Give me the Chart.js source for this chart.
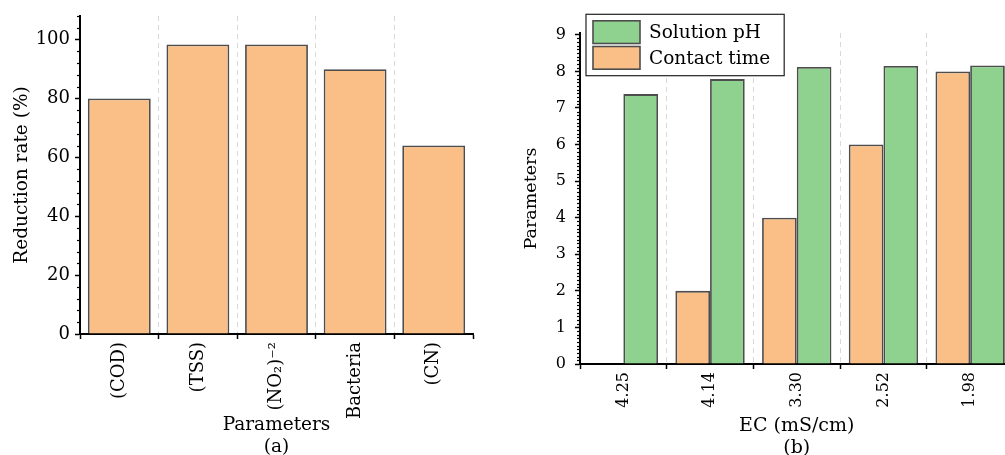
<!DOCTYPE html>
<html>
<head>
<meta charset="utf-8">
<script src="https://cdn.jsdelivr.net/npm/chart.js@4.4.1/dist/chart.umd.min.js"></script>
<style>
  html, body { margin: 0; padding: 0; background: #fff; }
  body { width: 1005px; height: 455px; overflow: hidden; position: relative; }
  #panelA { position: absolute; left: 0; top: 0; width: 500px; height: 455px; }
  #panelB { position: absolute; left: 500px; top: 0; width: 520px; height: 455px; }
</style>
</head>
<body>
<div id="panelA"><canvas id="chartA"></canvas></div>
<div id="panelB"><canvas id="chartB"></canvas></div>
<script>
// Panel (a): reduction rate for each parameter
const paramLabels = ['(COD)', '(TSS)', '(NO₂)⁻²', 'Bacteria', '(CN)'];
const reductionRate = [80, 98.3, 98.3, 89.9, 64];

// Panel (b): contact time and solution pH against EC
const ecLabels = ['4.25', '4.14', '3.30', '2.52', '1.98'];
const contactTime = [null, 2, 4, 6, 8];
const solutionPH = [7.38, 7.79, 8.12, 8.15, 8.16];

const ORANGE = '#f9bf87';
const GREEN = '#8fd28f';
const EDGE = '#4d4d4d';
const SERIF = "'DejaVu Serif', 'Liberation Serif', serif";

Chart.defaults.font.family = SERIF;
Chart.defaults.color = '#000';

// Small tick marks between the labelled y ticks
const minorTicks = {
  id: 'minorTicks',
  afterDraw(chart, args, opts) {
    const s = chart.scales.y;
    const ctx = chart.ctx;
    ctx.save();
    ctx.strokeStyle = '#000';
    ctx.lineWidth = 1.2;
    const n = Math.floor((s.max - s.min) / opts.step + 1e-9);
    for (let i = 0; i <= n; i++) {
      const v = s.min + i * opts.step;
      const r = v / opts.major;
      if (Math.abs(r - Math.round(r)) < 1e-6) continue;
      const y = Math.round(s.getPixelForValue(v)) + 0.5;
      ctx.beginPath();
      ctx.moveTo(s.right - opts.len, y);
      ctx.lineTo(s.right, y);
      ctx.stroke();
    }
    ctx.restore();
  }
};

// Framed legend placed in the upper-left corner of the plot
const boxedLegend = {
  id: 'boxedLegend',
  afterDraw(chart, args, opts) {
    const { ctx, chartArea } = chart;
    const items = opts.order.map(i => chart.data.datasets[i]);
    ctx.save();
    ctx.font = opts.font;
    const textW = Math.max(...items.map(d => ctx.measureText(d.label).width));
    const x0 = chartArea.left + opts.dx;
    const y0 = opts.top;
    const sw = 47, sh = 22.7, gap = 3, padX = 7, padY = 6.5;
    const w = padX + sw + 9 + textW + 14;
    const h = padY * 2 + items.length * sh + (items.length - 1) * gap;
    ctx.fillStyle = '#fff';
    ctx.fillRect(x0, y0, w, h);
    ctx.strokeStyle = '#222';
    ctx.lineWidth = 1.2;
    ctx.strokeRect(x0, y0, w, h);
    items.forEach((d, k) => {
      const y = y0 + padY + k * (sh + gap);
      ctx.fillStyle = d.backgroundColor;
      ctx.fillRect(x0 + padX, y, sw, sh);
      ctx.strokeStyle = d.borderColor;
      ctx.lineWidth = 1.6;
      ctx.strokeRect(x0 + padX, y, sw, sh);
      ctx.fillStyle = '#000';
      ctx.textBaseline = 'middle';
      ctx.fillText(d.label, x0 + padX + sw + 9, y + sh / 2 + 1);
    });
    ctx.restore();
  }
};

function xAxis(labels, title, height, tickSize, titleSize, titleBottom) {
  return {
    type: 'category',
    labels: labels,
    offset: true,
    grid: {
      offset: true,
      // dashed separators between categories only (not at the plot edges)
      color: c => (c.type !== 'tick' || c.index === 0 ? 'rgba(0,0,0,0)' : '#d9d9d9'),
      lineWidth: 1,
      tickLength: 5,
      tickColor: '#000',
      tickWidth: 1.5
    },
    border: { color: '#000', width: 2, dash: [5, 4] },
    ticks: { maxRotation: 90, minRotation: 90, padding: 3, font: { size: tickSize }, color: '#000' },
    title: {
      display: true,
      text: title,
      font: { size: titleSize, lineHeight: 22 / titleSize },
      color: '#000',
      padding: { top: 0, bottom: titleBottom }
    },
    afterFit: s => { s.height = height; }
  };
}

function yAxis(max, step, title, tickSize, titleSize, width, labelPad, titlePad) {
  return {
    min: 0,
    max: max,
    grid: {
      drawOnChartArea: false,
      tickLength: 5,
      tickColor: '#000',
      tickWidth: 1.5
    },
    border: { color: '#000', width: 2 },
    ticks: { stepSize: step, includeBounds: false, padding: labelPad, font: { size: tickSize }, color: '#000' },
    title: {
      display: true,
      text: title,
      font: { size: titleSize },
      color: '#000',
      padding: { top: titlePad, bottom: 0 }
    },
    afterFit: s => { s.width = width; }
  };
}

new Chart(document.getElementById('chartA'), {
  type: 'bar',
  data: {
    labels: paramLabels,
    datasets: [{
      label: 'Reduction rate',
      data: reductionRate,
      backgroundColor: ORANGE,
      borderColor: EDGE,
      borderWidth: 1.8,
      categoryPercentage: 0.8,
      barPercentage: 1.0
    }]
  },
  options: {
    responsive: true,
    maintainAspectRatio: false,
    animation: false,
    layout: { padding: { left: 0, right: 27, top: 16, bottom: 0 } },
    plugins: {
      legend: { display: false },
      tooltip: { enabled: false },
      minorTicks: { step: 4, major: 20, len: 3 }
    },
    scales: {
      x: xAxis(paramLabels, ['Parameters', '(a)'], 121, 18, 18.5, -3),
      y: yAxis(108, 20, 'Reduction rate (%)', 18, 18.5, 80, 5, 11)
    }
  },
  plugins: [minorTicks]
});

new Chart(document.getElementById('chartB'), {
  type: 'bar',
  data: {
    labels: ecLabels,
    datasets: [
      {
        label: 'Contact time',
        data: contactTime,
        backgroundColor: ORANGE,
        borderColor: EDGE,
        borderWidth: 1.8,
        categoryPercentage: 0.8,
        barPercentage: 1.0
      },
      {
        label: 'Solution pH',
        data: solutionPH,
        backgroundColor: GREEN,
        borderColor: EDGE,
        borderWidth: 1.8,
        categoryPercentage: 0.8,
        barPercentage: 1.0
      }
    ]
  },
  options: {
    responsive: true,
    maintainAspectRatio: false,
    animation: false,
    layout: { padding: { left: 0, right: 6.5, top: 33, bottom: 0 } },
    plugins: {
      legend: { display: false },
      tooltip: { enabled: false },
      minorTicks: { step: 0.1, major: 1, len: 3 },
      boxedLegend: { order: [1, 0], dx: 6, top: 14.3, font: "18.5px " + SERIF }
    },
    scales: {
      x: xAxis(ecLabels, ['EC (mS/cm)', '(b)'], 91, 16, 19, -4.5),
      y: yAxis(9.05, 1, 'Parameters', 16, 17.5, 80, 9, 21)
    }
  },
  plugins: [minorTicks, boxedLegend]
});
</script>
</body>
</html>
